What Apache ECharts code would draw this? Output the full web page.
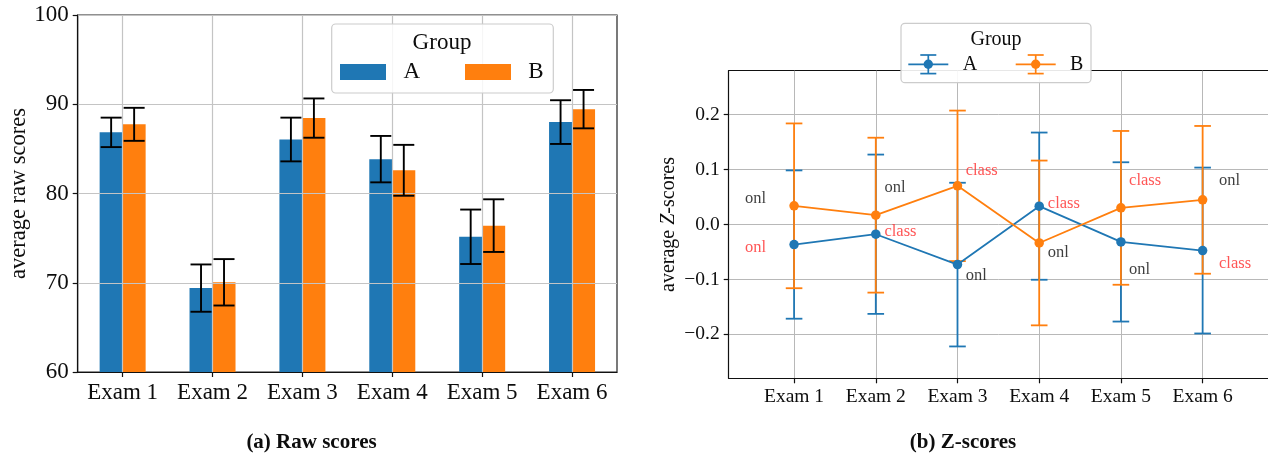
<!DOCTYPE html>
<html>
<head>
<meta charset="utf-8">
<script src="https://cdn.jsdelivr.net/npm/echarts@6/dist/echarts.min.js"></script>
<style>
html,body{margin:0;padding:0;background:#fff;}
#chart{width:1268px;height:455px;}
</style>
</head>
<body>
<div id="chart"></div>
<script>
// ---------- data ----------
const categories = ['Exam 1', 'Exam 2', 'Exam 3', 'Exam 4', 'Exam 5', 'Exam 6'];
const groups = ['A', 'B'];
const legendTitle = 'Group';

// (a) raw scores
const rawA = [86.85, 69.4, 86.05, 83.85, 75.15, 88.0];
const rawAErr = [1.65, 2.65, 2.45, 2.6, 3.05, 2.45];
const rawB = [87.75, 70.05, 88.45, 82.6, 76.4, 89.45];
const rawBErr = [1.85, 2.6, 2.2, 2.85, 2.95, 2.15];
const rawTicks = [60, 70, 80, 90, 100];

// (b) z-scores
const zA = [-0.0365, -0.0177, -0.073, 0.0334, -0.0317, -0.0474];
const zAErr = [0.135, 0.145, 0.149, 0.134, 0.145, 0.151];
const zB = [0.034, 0.017, 0.0704, -0.0336, 0.0303, 0.0449];
const zBErr = [0.150, 0.141, 0.137, 0.150, 0.140, 0.1345];
const zTicks = [-0.2, -0.1, 0.0, 0.1, 0.2];

// annotations on (b)
const annotX = [0.40, 0.40, 2.106, 2.106, 3.10, 3.10, 4.106, 4.106, 5.10, 5.10, 6.20, 6.20];
const annotY = [0.047, -0.042, 0.067, -0.0135, 0.098, -0.0925, 0.038, -0.052, 0.079, -0.082, 0.079, -0.072];
const annotText = ['onl', 'onl', 'onl', 'class', 'class', 'onl', 'class', 'onl', 'class', 'onl', 'onl', 'class'];
const annotRed = [false, true, false, true, true, false, true, false, true, false, false, true];

const captions = ['(a) Raw scores', '(b) Z-scores'];
const yNames = ['average raw scores', 'average {i|Z}-scores'];

// ---------- styles ----------
const BLUE = '#1f77b4', ORANGE = '#ff7f0e', RED = '#ff2a2a', INK = '#0d0d0d';
const FONT = '"Liberation Serif", "DejaVu Serif", serif';
const xPos = categories.map((_, i) => i + 1);

function errRender(offset, capHalf, color, lw) {
  return function (params, api) {
    const x = api.value(0), lo = api.value(1), hi = api.value(2);
    const p1 = api.coord([x, lo]), p2 = api.coord([x, hi]);
    const cx = p1[0] + offset;
    const st = { stroke: color, lineWidth: lw };
    return {
      type: 'group',
      children: [
        { type: 'line', shape: { x1: cx, y1: p1[1], x2: cx, y2: p2[1] }, style: st },
        { type: 'line', shape: { x1: cx - capHalf, y1: p1[1], x2: cx + capHalf, y2: p1[1] }, style: st },
        { type: 'line', shape: { x1: cx - capHalf, y1: p2[1], x2: cx + capHalf, y2: p2[1] }, style: st }
      ]
    };
  };
}

const rawAErrData = rawA.map((v, i) => [i, v - rawAErr[i], v + rawAErr[i]]);
const rawBErrData = rawB.map((v, i) => [i, v - rawBErr[i], v + rawBErr[i]]);
const zAErrData = zA.map((v, i) => [xPos[i], v - zAErr[i], v + zAErr[i]]);
const zBErrData = zB.map((v, i) => [xPos[i], v - zBErr[i], v + zBErr[i]]);
const zALine = zA.map((v, i) => [xPos[i], v]);
const zBLine = zB.map((v, i) => [xPos[i], v]);
const annotData = annotX.map((x, i) => ({
  value: [x, annotY[i]],
  name: annotText[i],
  label: { color: annotRed[i] ? RED : INK }
}));

const chart = echarts.init(document.getElementById('chart'), null, { renderer: 'canvas' });

const G0 = { left: 77.7, top: 15, width: 539.3, height: 357 };
const G1 = { left: 728.7, top: 70.7, width: 541.2, height: 307.6 };

function fmtMinus(v) {
  return (Math.round(v * 10) / 10).toFixed(1).replace('-', '\u2212');
}

const option = {
  animation: false,
  textStyle: { fontFamily: FONT },
  grid: [
    Object.assign({ show: true, borderColor: '#222', borderWidth: 1.2, backgroundColor: 'transparent' }, G0),
    Object.assign({}, G1)
  ],
  xAxis: [
    {
      type: 'category', gridIndex: 0, data: categories, boundaryGap: true, z: 3,
      axisLine: { show: true, lineStyle: { color: '#111', width: 1.2 } },
      axisTick: { show: true, alignWithLabel: true, inside: false, length: 5, lineStyle: { color: '#111', width: 1.2 } },
      axisLabel: { interval: 0, margin: 9, color: INK, fontFamily: FONT, fontSize: 23 },
      splitLine: { show: true, alignWithLabel: true, interval: 0, lineStyle: { color: '#c4c4c4', width: 1.2 } }
    },
    {
      type: 'value', gridIndex: 1, min: 0.2, max: 6.8, z: 3,
      axisLine: { show: true, onZero: false, lineStyle: { color: '#111', width: 1.2 } },
      axisTick: { show: true, inside: false, length: 5, customValues: xPos, lineStyle: { color: '#111', width: 1.2 } },
      axisLabel: { show: true, customValues: xPos, margin: 9, color: INK, fontFamily: FONT, fontSize: 19.5,
        formatter: v => categories[Math.round(v) - 1] || '' },
      splitLine: { show: true, customValues: xPos, lineStyle: { color: '#b8b8b8', width: 1 } }
    },
    {
      type: 'value', gridIndex: 1, min: 0.2, max: 6.8, position: 'top',
      axisLine: { show: true, onZero: false, lineStyle: { color: '#111', width: 1.2 } },
      axisTick: { show: false }, axisLabel: { show: false }, splitLine: { show: false }
    }
  ],
  yAxis: [
    {
      type: 'value', gridIndex: 0, min: rawTicks[0], max: rawTicks[rawTicks.length - 1], interval: 10, z: 3,
      axisLine: { show: true, lineStyle: { color: '#111', width: 1.2 } },
      axisTick: { show: true, inside: false, length: 5, lineStyle: { color: '#111', width: 1.2 } },
      axisLabel: { margin: 9, color: INK, fontFamily: FONT, fontSize: 23 },
      splitLine: { show: true, lineStyle: { color: '#c4c4c4', width: 1.2 } },
      name: yNames[0], nameLocation: 'middle', nameGap: 47,
      nameTextStyle: { color: INK, fontFamily: FONT, fontSize: 22.5 }
    },
    {
      type: 'value', gridIndex: 1, min: -0.28, max: 0.28, z: 3,
      axisLine: { show: true, onZero: false, lineStyle: { color: '#111', width: 1.2 } },
      axisTick: { show: true, inside: false, length: 5, customValues: zTicks, lineStyle: { color: '#111', width: 1.2 } },
      axisLabel: { margin: 9, customValues: zTicks, color: INK, fontFamily: FONT, fontSize: 19.5, formatter: fmtMinus },
      splitLine: { show: true, customValues: zTicks, lineStyle: { color: '#b8b8b8', width: 1 } },
      name: yNames[1], nameLocation: 'middle', nameGap: 50,
      nameTextStyle: { color: INK, fontFamily: FONT, fontSize: 20,
        rich: { i: { fontStyle: 'italic', fontFamily: FONT, fontSize: 20, color: INK } } }
    }
  ],
  series: [
    { type: 'bar', name: groups[0], xAxisIndex: 0, yAxisIndex: 0, data: rawA, barWidth: 23, barGap: '0%',
      itemStyle: { color: BLUE }, z: 2 },
    { type: 'bar', name: groups[1], xAxisIndex: 0, yAxisIndex: 0, data: rawB, barWidth: 23, barGap: '0%',
      itemStyle: { color: ORANGE }, z: 2 },
    { type: 'custom', xAxisIndex: 0, yAxisIndex: 0, data: rawAErrData, encode: { x: 0, y: [1, 2] },
      renderItem: errRender(-11.5, 10.5, '#000', 1.9), z: 6 },
    { type: 'custom', xAxisIndex: 0, yAxisIndex: 0, data: rawBErrData, encode: { x: 0, y: [1, 2] },
      renderItem: errRender(11.5, 10.5, '#000', 1.9), z: 6 },

    { type: 'custom', xAxisIndex: 1, yAxisIndex: 1, data: zAErrData, encode: { x: 0, y: [1, 2] },
      renderItem: errRender(0, 8.3, BLUE, 1.8), z: 4 },
    { type: 'custom', xAxisIndex: 1, yAxisIndex: 1, data: zBErrData, encode: { x: 0, y: [1, 2] },
      renderItem: errRender(0, 8.3, ORANGE, 1.8), z: 5 },
    { type: 'line', name: groups[0], xAxisIndex: 1, yAxisIndex: 1, data: zALine, symbol: 'circle', symbolSize: 9.5,
      showSymbol: true, lineStyle: { color: BLUE, width: 1.8 }, itemStyle: { color: BLUE }, z: 6 },
    { type: 'line', name: groups[1], xAxisIndex: 1, yAxisIndex: 1, data: zBLine, symbol: 'circle', symbolSize: 9.5,
      showSymbol: true, lineStyle: { color: ORANGE, width: 1.8 }, itemStyle: { color: ORANGE }, z: 7 },
    { type: 'scatter', xAxisIndex: 1, yAxisIndex: 1, data: annotData, symbolSize: 0, z: 8, silent: true,
      label: { show: true, position: 'right', distance: 0, formatter: p => p.name,
        fontFamily: FONT, fontSize: 16.5 } }
  ],
  graphic: [
    // legend (a)
    { type: 'rect', z: 100, shape: { x: 331.7, y: 24, width: 221.6, height: 69, r: 4 },
      style: { fill: 'rgba(255,255,255,0.85)', stroke: '#cccccc', lineWidth: 1.2 } },
    { type: 'text', z: 101, style: { text: legendTitle, x: 442, y: 43, font: '23px ' + FONT, fill: INK,
      textAlign: 'center', textVerticalAlign: 'middle', align: 'center', verticalAlign: 'middle' } },
    { type: 'rect', z: 101, shape: { x: 340, y: 64, width: 46, height: 16 }, style: { fill: BLUE } },
    { type: 'text', z: 101, style: { text: groups[0], x: 411.7, y: 72, font: '23px ' + FONT, fill: INK,
      textAlign: 'center', textVerticalAlign: 'middle', align: 'center', verticalAlign: 'middle' } },
    { type: 'rect', z: 101, shape: { x: 465, y: 64, width: 46, height: 16 }, style: { fill: ORANGE } },
    { type: 'text', z: 101, style: { text: groups[1], x: 536, y: 72, font: '23px ' + FONT, fill: INK,
      textAlign: 'center', textVerticalAlign: 'middle', align: 'center', verticalAlign: 'middle' } },

    // legend (b)
    { type: 'rect', z: 100, shape: { x: 901, y: 23.3, width: 190, height: 59.4, r: 4 },
      style: { fill: 'rgba(255,255,255,0.9)', stroke: '#cccccc', lineWidth: 1.2 } },
    { type: 'text', z: 101, style: { text: legendTitle, x: 996, y: 39.5, font: '20px ' + FONT, fill: INK,
      textAlign: 'center', textVerticalAlign: 'middle', align: 'center', verticalAlign: 'middle' } },
    { type: 'group', z: 101, x: 928.3, y: 64.3, children: [
      { type: 'line', z: 101, shape: { x1: -20, y1: 0, x2: 20, y2: 0 }, style: { stroke: BLUE, lineWidth: 1.8 } },
      { type: 'line', z: 101, shape: { x1: 0, y1: -9.3, x2: 0, y2: 9.3 }, style: { stroke: BLUE, lineWidth: 1.7 } },
      { type: 'line', z: 101, shape: { x1: -8, y1: -9.3, x2: 8, y2: -9.3 }, style: { stroke: BLUE, lineWidth: 1.7 } },
      { type: 'line', z: 101, shape: { x1: -8, y1: 9.3, x2: 8, y2: 9.3 }, style: { stroke: BLUE, lineWidth: 1.7 } },
      { type: 'circle', z: 102, shape: { cx: 0, cy: 0, r: 4.7 }, style: { fill: BLUE } }
    ] },
    { type: 'text', z: 101, style: { text: groups[0], x: 970, y: 64.5, font: '20px ' + FONT, fill: INK,
      textAlign: 'center', textVerticalAlign: 'middle', align: 'center', verticalAlign: 'middle' } },
    { type: 'group', z: 101, x: 1035.7, y: 64.3, children: [
      { type: 'line', z: 101, shape: { x1: -20, y1: 0, x2: 20, y2: 0 }, style: { stroke: ORANGE, lineWidth: 1.8 } },
      { type: 'line', z: 101, shape: { x1: 0, y1: -9.3, x2: 0, y2: 9.3 }, style: { stroke: ORANGE, lineWidth: 1.7 } },
      { type: 'line', z: 101, shape: { x1: -8, y1: -9.3, x2: 8, y2: -9.3 }, style: { stroke: ORANGE, lineWidth: 1.7 } },
      { type: 'line', z: 101, shape: { x1: -8, y1: 9.3, x2: 8, y2: 9.3 }, style: { stroke: ORANGE, lineWidth: 1.7 } },
      { type: 'circle', z: 102, shape: { cx: 0, cy: 0, r: 4.7 }, style: { fill: ORANGE } }
    ] },
    { type: 'text', z: 101, style: { text: groups[1], x: 1076.7, y: 64.5, font: '20px ' + FONT, fill: INK,
      textAlign: 'center', textVerticalAlign: 'middle', align: 'center', verticalAlign: 'middle' } },

    // captions
    { type: 'text', z: 101, style: { text: captions[0], x: 311.5, y: 443, font: 'bold 21px ' + FONT, fill: INK,
      textAlign: 'center', textVerticalAlign: 'middle', align: 'center', verticalAlign: 'middle' } },
    { type: 'text', z: 101, style: { text: captions[1], x: 963, y: 443, font: 'bold 21px ' + FONT, fill: INK,
      textAlign: 'center', textVerticalAlign: 'middle', align: 'center', verticalAlign: 'middle' } }
  ]
};
chart.setOption(option);
</script>
</body>
</html>
